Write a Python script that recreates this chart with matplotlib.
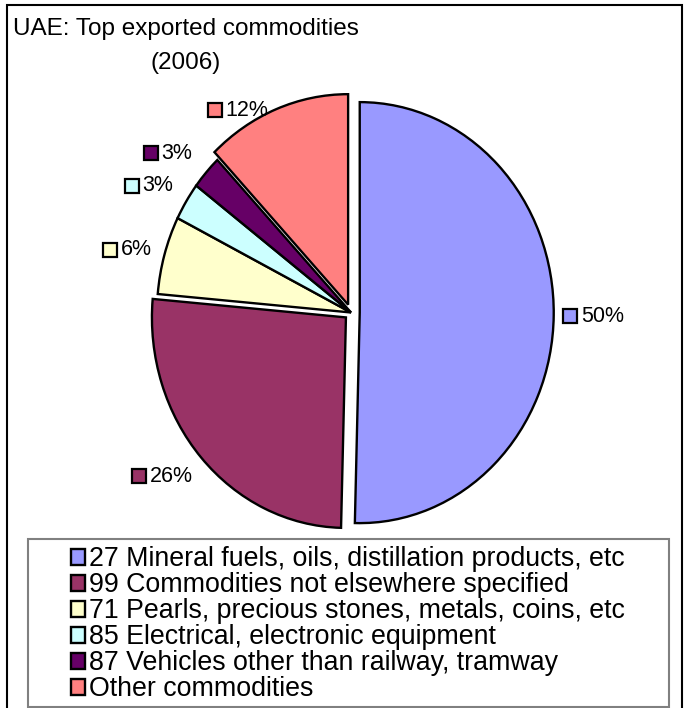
import matplotlib
matplotlib.use("Agg")
import matplotlib.pyplot as plt
from matplotlib.patches import Rectangle

plt.rcParams["font.family"] = ["Liberation Sans", "DejaVu Sans"]

# UAE exports 2006, share of total (%)
commodities = [
    "27 Mineral fuels, oils, distillation products, etc",
    "99 Commodities not elsewhere specified",
    "71 Pearls, precious stones, metals, coins, etc",
    "85 Electrical, electronic equipment",
    "87 Vehicles other than railway, tramway",
    "Other commodities",
]
shares = [50.4, 26.0, 6.0, 2.9, 2.6, 12.1]
colors = ["#9999FF", "#993366", "#FFFFCC", "#CCFFFF", "#660066", "#FF8080"]
explode = [0.045, 0.035, 0.0, 0.0, 0.0, 0.04]

# label square centres, in pie radius units
label_pos = [(1.131, -0.017), (-1.092, -0.779), (-1.241, 0.297),
             (-1.128, 0.603), (-1.033, 0.757), (-0.700, 0.960)]

W, H = 684, 708
fig = plt.figure(figsize=(W / 100, H / 100), dpi=100, facecolor="white")

# pie axes: centre (351, 312.5) px from top-left, radii 194 x 210.5 px
cx, cy, rx, ry = 351, 312.5, 194, 210.5
lim = 1.3
ax = fig.add_axes([(cx - lim * rx) / W, (H - cy - lim * ry) / H,
                   2 * lim * rx / W, 2 * lim * ry / H])
wedges, _ = ax.pie(shares, colors=colors, explode=explode, startangle=90,
                   counterclock=False, radius=1.0,
                   wedgeprops=dict(edgecolor="black", linewidth=1.7))
ax.set_aspect("auto")
ax.set_xlim(-lim, lim)
ax.set_ylim(-lim, lim)
ax.axis("off")

for (lx, ly), val, col in zip(label_pos, shares, colors):
    ax.plot(lx, ly, marker="s", markersize=10, markerfacecolor=col,
            markeredgecolor="black", markeredgewidth=1.6, clip_on=False)
    ax.annotate(f"{val:.0f}%", (lx, ly), xytext=(7.5, 0), textcoords="offset points",
                ha="left", va="center", fontsize=15.5, color="black")

fig.text(186 / W, 1 - 46 / H, "UAE: Top exported commodities\n(2006)",
         ha="center", va="center", multialignment="center", fontsize=17.5,
         linespacing=1.65)

# outer chart frame
fig.patches.append(Rectangle((7 / W, -0.01), (682 - 7) / W, 1 - 5 / H + 0.01,
                             transform=fig.transFigure, fill=False,
                             edgecolor="black", linewidth=1.5))
# legend frame
fig.patches.append(Rectangle((28 / W, 1 - 707 / H), (669 - 28) / W, (707 - 539) / H,
                             transform=fig.transFigure, fill=False,
                             edgecolor="#808080", linewidth=1.5))

fig.legend(wedges, commodities, loc="center",
           bbox_to_anchor=(348 / W, 1 - 624.5 / H), frameon=False,
           fontsize=19.3, handlelength=0.55, handleheight=0.55,
           handletextpad=0.15, labelspacing=0.0, borderpad=0)

fig.savefig("out.png", dpi=100, facecolor="white")
